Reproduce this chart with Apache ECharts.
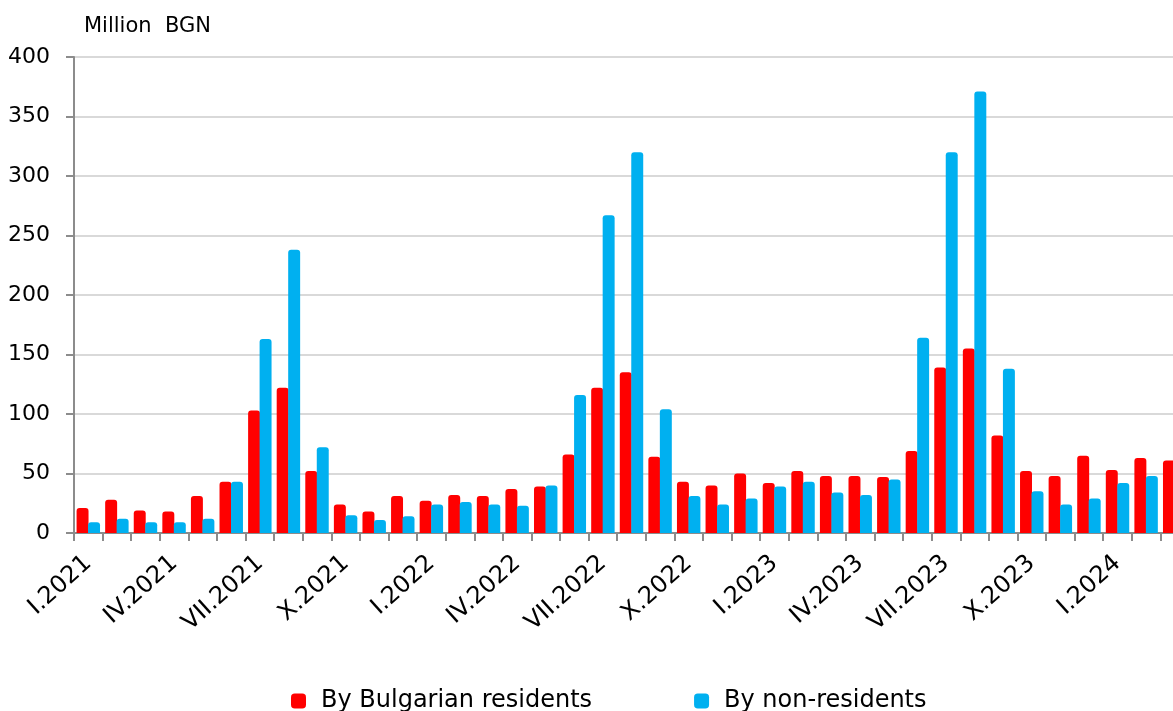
<!DOCTYPE html>
<html>
<head>
<meta charset="utf-8">
<script src="https://cdn.jsdelivr.net/npm/echarts@6/dist/echarts.min.js"></script>
<style>
html, body { margin: 0; padding: 0; background: #fff; overflow: hidden; }
#main { width: 1173px; height: 711px; }
</style>
</head>
<body>
<div id="main"></div>
<script>
var months = [
	'I.2021', 'II.2021', 'III.2021', 'IV.2021', 'V.2021', 'VI.2021', 'VII.2021', 'VIII.2021', 'IX.2021', 'X.2021', 'XI.2021', 'XII.2021',
	'I.2022', 'II.2022', 'III.2022', 'IV.2022', 'V.2022', 'VI.2022', 'VII.2022', 'VIII.2022', 'IX.2022', 'X.2022', 'XI.2022', 'XII.2022',
	'I.2023', 'II.2023', 'III.2023', 'IV.2023', 'V.2023', 'VI.2023', 'VII.2023', 'VIII.2023', 'IX.2023', 'X.2023', 'XI.2023', 'XII.2023',
	'I.2024', 'II.2024', 'III.2024'
];
var residents = [
	21, 28, 19, 18, 31, 43, 103, 122, 52, 24, 18, 31,
	27, 32, 31, 37, 39, 66, 122, 135, 64, 43, 40, 50,
	42, 52, 48, 48, 47, 69, 139, 155, 82, 52, 48, 65,
	53, 63, 61
];
var nonResidents = [
	9, 12, 9, 9, 12, 43, 163, 238, 72, 15, 11, 14,
	24, 26, 24, 23, 40, 116, 267, 320, 104, 31, 24, 29,
	39, 43, 34, 32, 45, 164, 320, 371, 138, 35, 24, 29,
	42, 48, 47
];
var yTicks = [0, 50, 100, 150, 200, 250, 300, 350, 400];

var font = 'DejaVu Sans';
var chart = echarts.init(document.getElementById('main'));
var option = {
	animation: false,
	textStyle: { fontFamily: font },
	title: {
		text: 'Million  BGN',
		left: 79,
		top: 11,
		textStyle: { fontFamily: font, fontWeight: 'normal', fontSize: 21, color: '#000' }
	},
	legend: {
		left: 286,
		top: 684,
		itemWidth: 15,
		itemHeight: 15,
		itemGap: 102,
		icon: 'roundRect',
		textStyle: { fontFamily: font, fontSize: 24, color: '#000', padding: [0, 0, 0, 10] },
		data: ['By Bulgarian residents', 'By non-residents']
	},
	grid: {
		left: 74,
		width: 1115,
		top: 57,
		bottom: 178,
		containLabel: false,
		outerBoundsMode: 'none'
	},
	xAxis: {
		type: 'category',
		data: months,
		boundaryGap: true,
		axisLine: { lineStyle: { color: '#8c8c8c', width: 2 } },
		axisTick: { show: true, interval: 0, length: 8, lineStyle: { color: '#8c8c8c', width: 2 } },
		axisLabel: {
			interval: 2,
			rotate: 42,
			margin: 27,
			fontFamily: font,
			fontSize: 24,
			color: '#000'
		}
	},
	yAxis: {
		type: 'value',
		min: yTicks[0],
		max: yTicks[yTicks.length - 1],
		interval: 50,
		axisLine: { show: true, lineStyle: { color: '#8c8c8c', width: 2 } },
		axisTick: { show: true, length: 8, inside: false, lineStyle: { color: '#8c8c8c', width: 2 } },
		axisLabel: { margin: 24, fontFamily: font, fontSize: 22, color: '#000' },
		splitLine: { lineStyle: { color: '#d9d9d9', width: 2 } }
	},
	series: [{
		name: 'By Bulgarian residents',
		type: 'bar',
		data: residents,
		barGap: '-4%',
		barCategoryGap: '18%',
		itemStyle: { color: '#ff0000', borderRadius: [3, 3, 0, 0] }
	}, {
		name: 'By non-residents',
		type: 'bar',
		data: nonResidents,
		barGap: '-4%',
		barCategoryGap: '18%',
		itemStyle: { color: '#00b0f0', borderRadius: [3, 3, 0, 0] }
	}]
};
chart.setOption(option);
window.addEventListener('resize', function() {
	chart.resize();
});
</script>
</body>
</html>
